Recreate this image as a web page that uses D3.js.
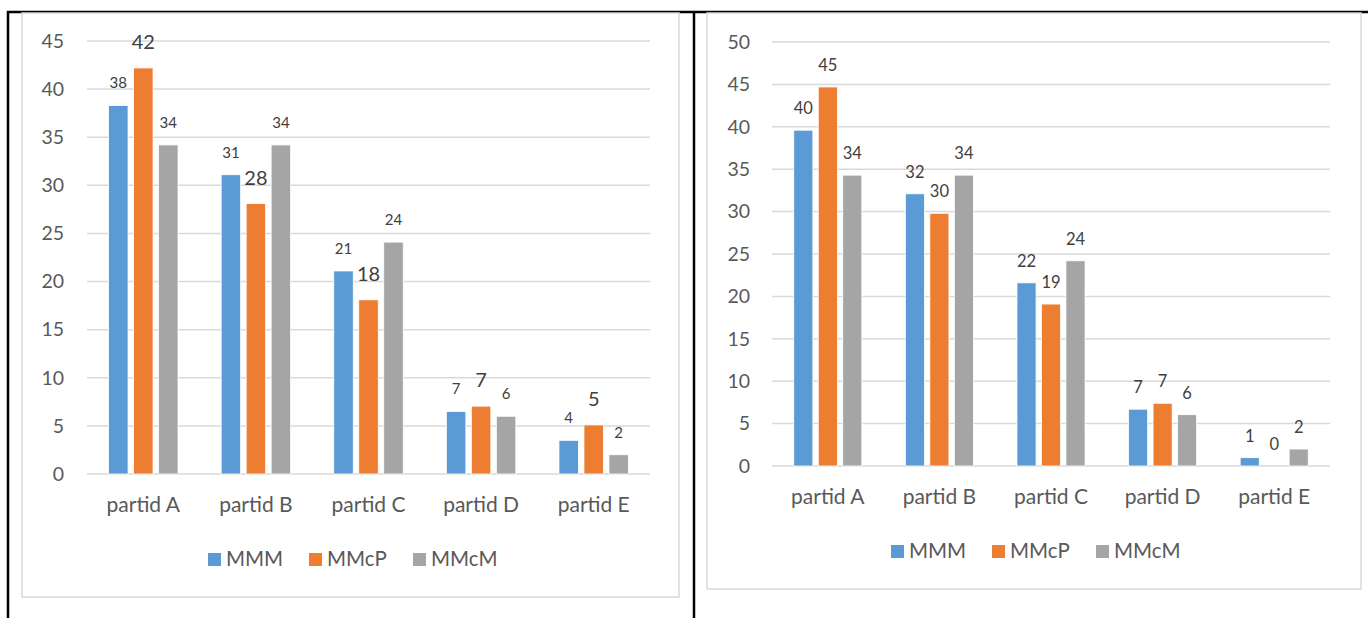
<!DOCTYPE html>
<html>
<head>
<meta charset="utf-8">
<script src="https://cdn.jsdelivr.net/npm/d3@7"></script>
<style>
  html, body { margin: 0; padding: 0; background: #fff; }
  svg { display: block; }
  text { font-family: Lato, "Open Sans", sans-serif; }
</style>
</head>
<body>
<svg id="c" width="1368" height="618"></svg>
<script>
// ---- data ----
const categories = ["partid A", "partid B", "partid C", "partid D", "partid E"];
const seriesNames = ["MMM", "MMcP", "MMcM"];
const seriesColors = ["#5B9BD5", "#ED7D31", "#A5A5A5"];

// left chart
const leftMMM  = [38.3, 31.1, 21.1, 6.5, 3.5];
const leftMMcP = [42.2, 28.1, 18.1, 7.05, 5.1];
const leftMMcM = [34.2, 34.2, 24.1, 6.0, 2.0];
const leftTicks = [0, 5, 10, 15, 20, 25, 30, 35, 40, 45];

// right chart
const rightMMM  = [39.6, 32.1, 21.6, 6.7, 0.98];
const rightMMcP = [44.7, 29.8, 19.1, 7.4, 0];
const rightMMcM = [34.3, 34.3, 24.2, 6.05, 2.0];
const rightTicks = [0, 5, 10, 15, 20, 25, 30, 35, 40, 45, 50];

const svg = d3.select("#c");

// outer black frame lines
svg.append("line").attr("x1", 7).attr("x2", 1368).attr("y1", 12).attr("y2", 12)
  .attr("stroke", "#000").attr("stroke-width", 2.5);
svg.append("line").attr("x1", 8).attr("x2", 8).attr("y1", 11).attr("y2", 618)
  .attr("stroke", "#000").attr("stroke-width", 2.5);
svg.append("line").attr("x1", 694).attr("x2", 694).attr("y1", 11).attr("y2", 618)
  .attr("stroke", "#000").attr("stroke-width", 2.5);

function drawChart(cfg) {
  const g = svg.append("g");
  // chart frame
  g.append("rect").attr("x", cfg.frame[0]).attr("y", cfg.frame[1])
    .attr("width", cfg.frame[2] - cfg.frame[0]).attr("height", cfg.frame[3] - cfg.frame[1])
    .attr("fill", "#fff").attr("stroke", "#d9d9d9").attr("stroke-width", 1.5);

  const y = d3.scaleLinear().domain([0, cfg.ymax]).range([cfg.y0, cfg.ytop]);
  const x0 = d3.scaleBand().domain(categories).range([cfg.xl, cfg.xr])
    .paddingInner(cfg.pad).paddingOuter(cfg.pad / 2);
  const x1 = d3.scaleBand().domain(seriesNames).range([0, x0.bandwidth()]).paddingInner(0.22);

  // gridlines
  g.append("g").selectAll("line").data(cfg.ticks).join("line")
    .attr("x1", cfg.xl).attr("x2", cfg.xr)
    .attr("y1", d => y(d)).attr("y2", d => y(d))
    .attr("stroke", "#d9d9d9").attr("stroke-width", 1.5);

  // y axis labels
  const yAxis = d3.axisLeft(y).tickValues(cfg.ticks).tickSize(0).tickPadding(0);
  const ya = g.append("g").attr("transform", `translate(${cfg.ylabelX},0)`).call(yAxis);
  ya.select(".domain").remove();
  ya.selectAll("text").attr("fill", "#595959").style("font-size", "19.5px")
    .style("font-family", "Lato, sans-serif");

  // x axis labels
  const xAxis = d3.axisBottom(x0).tickSize(0).tickPadding(0);
  const xa = g.append("g").attr("transform", `translate(0,${cfg.xlabelY})`).call(xAxis);
  xa.select(".domain").remove();
  xa.selectAll("text").attr("fill", "#595959").attr("dy", "0.35em").attr("y", 0)
    .style("font-size", "21px").style("font-family", "Lato, sans-serif");

  // bars
  const rows = [];
  categories.forEach((c, i) => {
    seriesNames.forEach((s, j) => rows.push({ c, s, j, v: cfg.values[j][i] }));
  });
  g.append("g").selectAll("rect").data(rows).join("rect")
    .attr("x", d => x0(d.c) + x1(d.s))
    .attr("width", x1.bandwidth())
    .attr("y", d => y(d.v))
    .attr("height", d => y(0) - y(d.v))
    .attr("fill", d => seriesColors[d.j])
    .attr("stroke", d => d.v > 0 ? "#ffffff" : "none").attr("stroke-width", 0.8);

  // data labels
  g.append("g").selectAll("text").data(rows).join("text")
    .attr("x", d => x0(d.c) + x1(d.s) + x1.bandwidth() / 2)
    .attr("y", d => y(d.v) - cfg.labelOffset[d.j])
    .attr("text-anchor", "middle")
    .attr("fill", "#404040")
    .style("font-size", d => cfg.labelSize[d.j] + "px")
    .text(d => Math.round(d.v));

  // legend
  const lg = g.append("g");
  cfg.legendX.forEach((lx, j) => {
    lg.append("rect").attr("x", lx).attr("y", cfg.legendY - 6).attr("width", 13).attr("height", 13)
      .attr("fill", seriesColors[j]);
    lg.append("text").attr("x", lx + cfg.legendGap).attr("y", cfg.legendY).attr("dy", "0.35em")
      .attr("fill", "#595959").style("font-size", "20.5px").text(seriesNames[j]);
  });
}

drawChart({
  frame: [22, 13, 679, 597],
  ymax: 45, y0: 474, ytop: 41,
  xl: 87, xr: 650, pad: 0.383,
  ticks: leftTicks,
  ylabelX: 64,
  xlabelY: 505,
  values: [leftMMM, leftMMcP, leftMMcM],
  labelSize: [15, 20, 15],
  labelOffset: [17, 19, 17],
  legendX: [208, 309, 413],
  legendGap: 18,
  legendY: 559
});

drawChart({
  frame: [707, 13, 1361, 589],
  ymax: 50, y0: 466, ytop: 42,
  xl: 772, xr: 1330, pad: 0.39,
  ticks: rightTicks,
  ylabelX: 750,
  xlabelY: 497,
  values: [rightMMM, rightMMcP, rightMMcM],
  labelSize: [16.5, 16.5, 16.5],
  labelOffset: [16, 16, 16],
  legendX: [891, 992, 1096],
  legendGap: 18,
  legendY: 551
});
</script>
</body>
</html>
